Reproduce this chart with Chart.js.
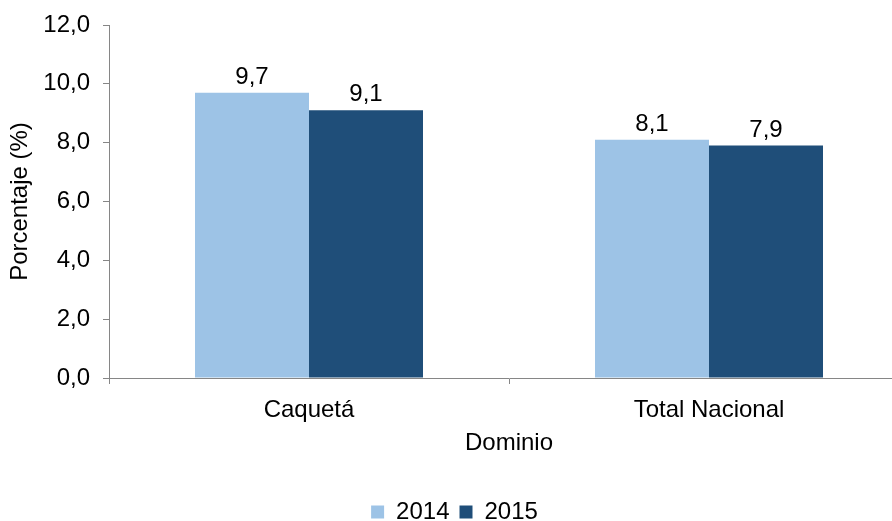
<!DOCTYPE html>
<html lang="es">
  <head>
    <meta charset="utf-8" />
    <script src="https://cdnjs.cloudflare.com/ajax/libs/Chart.js/4.4.1/chart.umd.js"></script>
    <style>
      html, body { margin: 0; padding: 0; background: #fff; overflow: hidden; }
      /* el gráfico original es más ancho y está recortado a la derecha */
      #wrap { width: 912px; height: 521px; }
    </style>
  </head>
  <body>
    <div id="wrap"><canvas id="Dominio"></canvas></div>
    <script>
      const categories = ["Caquetá", "Total Nacional"];
      const values2014 = [9.7, 8.1];
      const values2015 = [9.1, 7.9];
      const yTicks = [0, 2, 4, 6, 8, 10, 12];

      const fmt = (v) => v.toFixed(1).replace(".", ",");

      // etiquetas de valor encima de cada barra
      const valueLabels = {
        id: "valueLabels",
        afterDatasetsDraw(chart) {
          const ctx = chart.ctx;
          ctx.save();
          ctx.font = "24px 'Liberation Sans', Arial, sans-serif";
          ctx.fillStyle = "#000";
          ctx.textAlign = "center";
          ctx.textBaseline = "alphabetic";
          chart.data.datasets.forEach((ds, i) => {
            chart.getDatasetMeta(i).data.forEach((bar, j) => {
              ctx.fillText(fmt(ds.data[j]), bar.x, bar.y - 9);
            });
          });
          ctx.restore();
        },
      };

      const font = { family: "'Liberation Sans', Arial, sans-serif", size: 24, lineHeight: 1 };

      new Chart(document.getElementById("Dominio"), {
        type: "bar",
        data: {
          labels: categories,
          datasets: [
            {
              label: "2014",
              data: values2014,
              backgroundColor: "#9dc3e6",
              categoryPercentage: 0.57,
              barPercentage: 1,
            },
            {
              label: "2015",
              data: values2015,
              backgroundColor: "#1f4e79",
              categoryPercentage: 0.57,
              barPercentage: 1,
            },
          ],
        },
        plugins: [valueLabels],
        options: {
          responsive: true,
          maintainAspectRatio: false,
          animation: false,
          layout: { autoPadding: false, padding: { top: 17, right: 3, left: 0, bottom: -13 } },
          plugins: {
            tooltip: { enabled: false },
            legend: {
              position: "bottom",
              labels: {
                font: font,
                color: "#000",
                boxWidth: 13,
                boxHeight: 13,
                padding: 10,
              },
            },
          },
          scales: {
            x: {
              grid: {
                offset: true,
                drawOnChartArea: false,
                drawTicks: true,
                tickLength: 6,
                color: "#868686",
              },
              border: { color: "#868686" },
              ticks: { font: font, color: "#000", padding: 14 },
              title: {
                display: true,
                text: "Dominio",
                font: font,
                color: "#000",
                padding: { top: -5, bottom: 35 },
              },
            },
            y: {
              min: 0,
              max: 12,
              afterBuildTicks(scale) {
                scale.ticks = yTicks.map((v) => ({ value: v }));
              },
              afterFit(scale) {
                scale.width = 109;
              },
              grid: {
                drawOnChartArea: false,
                drawTicks: true,
                tickLength: 6,
                color: "#868686",
              },
              border: { color: "#868686" },
              ticks: {
                font: font,
                color: "#000",
                padding: 13,
                callback: (v) => fmt(v),
              },
              title: {
                display: true,
                text: "Porcentaje (%)",
                font: font,
                color: "#000",
                padding: 8,
              },
            },
          },
        },
      });
    </script>
  </body>
</html>
